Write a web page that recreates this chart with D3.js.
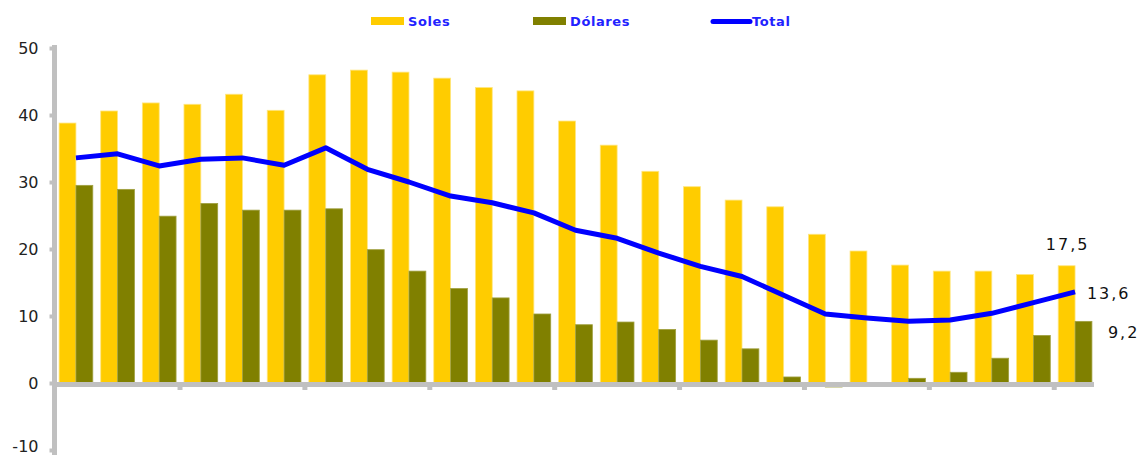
<!DOCTYPE html>
<html>
<head>
<meta charset="utf-8">
<script src="https://cdn.jsdelivr.net/npm/d3@7"></script>
<style>
  body { margin: 0; background: #fff; }
  svg text { font-family: "DejaVu Sans", sans-serif; }
</style>
</head>
<body>
<div id="chart"></div>
<script>
// values (25 periods, no axis labels shown)
var periods = d3.range(1, 26);
var soles = [38.8, 40.6, 41.8, 41.6, 43.1, 40.7, 46.0, 46.7, 46.4, 45.5, 44.1, 43.6, 39.1, 35.5, 31.6, 29.3, 27.3, 26.3, 22.2, 19.7, 17.6, 16.7, 16.7, 16.2, 17.5];
var dolares = [29.5, 28.9, 24.9, 26.8, 25.8, 25.8, 26.0, 19.9, 16.7, 14.1, 12.7, 10.3, 8.7, 9.1, 8.0, 6.4, 5.1, 0.9, -0.6, 0.0, 0.7, 1.6, 3.7, 7.1, 9.2];
var total = [33.6, 34.2, 32.4, 33.4, 33.6, 32.5, 35.1, 31.9, 30.0, 27.9, 26.9, 25.4, 22.8, 21.6, 19.4, 17.4, 15.9, 13.1, 10.3, 9.7, 9.2, 9.4, 10.4, 12.0, 13.6];
var yTicks = [-10, 0, 10, 20, 30, 40, 50];
var seriesNames = ["Soles", "Dólares", "Total"];
var colors = { Soles: "#FFCC00", "Dólares": "#808000", Total: "#0000FF" };

var width = 1138, height = 457;

var svg = d3.select("#chart").append("svg")
    .attr("width", width)
    .attr("height", height);

var x = d3.scaleBand()
    .domain(periods)
    .range([57, 1094])
    .paddingInner(0.19)
    .paddingOuter(0.05);

var xSub = d3.scaleBand()
    .domain(["Soles", "Dólares"])
    .range([0, x.bandwidth()]);

var y = d3.scaleLinear()
    .domain([-10, 50])
    .range([450, 48]);

// bars
var groups = svg.selectAll(".grp")
    .data(periods)
    .enter().append("g")
    .attr("class", "grp")
    .attr("transform", function(d) { return "translate(" + x(d) + ",0)"; });

groups.append("rect")
    .attr("x", xSub("Soles"))
    .attr("width", xSub.bandwidth())
    .attr("y", function(d, i) { return y(Math.max(0, soles[i])); })
    .attr("height", function(d, i) { return Math.abs(y(soles[i]) - y(0)); })
    .attr("fill", colors.Soles)
    .attr("stroke", "#FFE680")
    .attr("stroke-width", 0.8);

groups.append("rect")
    .attr("x", xSub("Dólares"))
    .attr("width", xSub.bandwidth())
    .attr("y", function(d, i) { return y(Math.max(0, dolares[i])); })
    .attr("height", function(d, i) { return Math.abs(y(dolares[i]) - y(0)); })
    .attr("fill", colors["Dólares"])
    .attr("stroke", "#A0A040")
    .attr("stroke-width", 0.8);

// axes (gray, thick)
var yAxis = d3.axisLeft(y).tickValues(yTicks).tickSize(5).tickPadding(11);
var gy = svg.append("g")
    .attr("transform", "translate(54.5,0)")
    .call(yAxis);
gy.select(".domain").attr("stroke", "#C0C0C0").attr("stroke-width", 5)
    .attr("d", "M0," + (y(-10) + 5) + "V" + (y(50) - 3));
gy.selectAll(".tick line").attr("stroke", "#C0C0C0").attr("stroke-width", 4);
gy.selectAll(".tick text")
    .attr("fill", "#222")
    .style("font-size", "16px")
    .attr("dy", function(d) { return d === -10 ? "0.1em" : "0.32em"; })
    .text(function(d) { return d; });

// x axis: line at zero with ticks every 3 periods
var xTickPos = periods.filter(function(d) { return d % 3 === 0 && d < 25; })
    .map(function(d) { return x(d) + x.bandwidth() + (x.step() - x.bandwidth()) / 2; });
svg.append("line")
    .attr("x1", 54).attr("x2", 1094)
    .attr("y1", y(0) + 1.5).attr("y2", y(0) + 1.5)
    .attr("stroke", "#C0C0C0").attr("stroke-width", 5);
svg.selectAll(".xtick")
    .data(xTickPos)
    .enter().append("line")
    .attr("class", "xtick")
    .attr("x1", function(d) { return d; }).attr("x2", function(d) { return d; })
    .attr("y1", y(0) + 3).attr("y2", y(0) + 7)
    .attr("stroke", "#C0C0C0").attr("stroke-width", 5);

// total line
var line = d3.line()
    .x(function(d, i) { return x(periods[i]) + x.bandwidth() / 2; })
    .y(function(d) { return y(d); });

svg.append("path")
    .datum(total)
    .attr("d", line)
    .attr("fill", "none")
    .attr("stroke", colors.Total)
    .attr("stroke-width", 5)
    .attr("stroke-linejoin", "round");

// last-value labels
var last = periods.length - 1;
var lastX = x(periods[last]);
var labels = [
    { text: "17,5", x: lastX + xSub("Soles") + xSub.bandwidth() / 2 + 1, y: y(soles[last]) - 16, anchor: "middle" },
    { text: "13,6", x: lastX + x.bandwidth() - 5, y: y(total[last]) + 7, anchor: "start" },
    { text: "9,2", x: lastX + x.bandwidth() + 16, y: y(dolares[last]) + 17, anchor: "start" }
];
svg.selectAll(".vlabel")
    .data(labels)
    .enter().append("text")
    .attr("class", "vlabel")
    .attr("x", function(d) { return d.x; })
    .attr("y", function(d) { return d.y; })
    .attr("text-anchor", function(d) { return d.anchor; })
    .attr("fill", "#111")
    .style("font-size", "16px")
    .style("letter-spacing", "2px")
    .text(function(d) { return d.text; });

// legend
var legendX = [371, 533, 712];
var legend = svg.selectAll(".leg")
    .data(seriesNames)
    .enter().append("g")
    .attr("class", "leg")
    .attr("transform", function(d, i) { return "translate(" + legendX[i] + ",0)"; });

legend.each(function(d) {
    var g = d3.select(this);
    if (d === "Total") {
        g.append("line")
            .attr("x1", 1).attr("x2", 38).attr("y1", 21.5).attr("y2", 21.5)
            .attr("stroke", colors.Total).attr("stroke-width", 5)
            .attr("stroke-linecap", "round");
    } else {
        g.append("rect")
            .attr("x", 0).attr("y", 17).attr("width", 33).attr("height", 8)
            .attr("fill", colors[d]);
    }
    g.append("text")
        .attr("x", d === "Total" ? 40 : 37)
        .attr("y", 26)
        .attr("fill", "#2222FF")
        .style("font-size", "13px")
        .style("font-weight", "bold")
        .style("letter-spacing", "0.6px")
        .text(d);
});
</script>
</body>
</html>
